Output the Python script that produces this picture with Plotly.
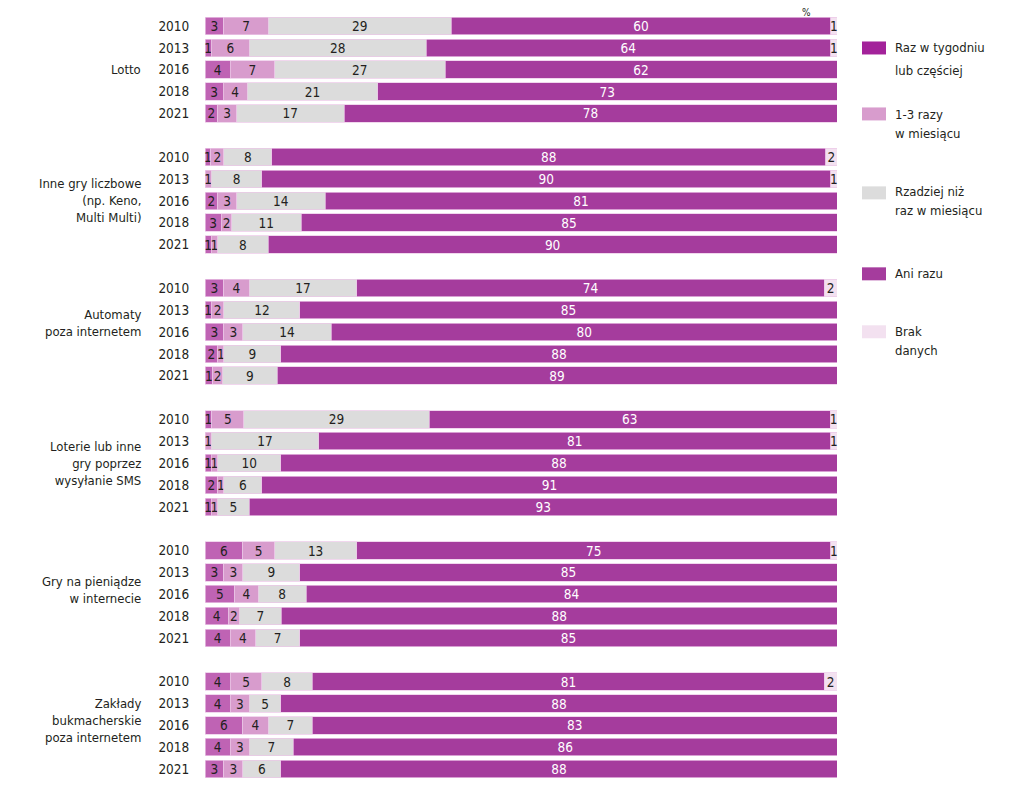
import plotly.graph_objects as go

groups = ["Lotto", "Inne gry liczbowe<br>(np. Keno,<br>Multi Multi)", "Automaty<br>poza internetem",
          "Loterie lub inne<br>gry poprzez<br>wysyłanie SMS", "Gry na pieniądze<br>w internecie",
          "Zakłady<br>bukmacherskie<br>poza internetem"]
years = ["2010", "2013", "2016", "2018", "2021"]

series_names = ["Raz w tygodniu lub częściej", "1-3 razy w miesiącu",
                "Rzadziej niż raz w miesiącu", "Ani razu", "Brak danych"]

# values in % (labels are the rounded values)
weekly = [3, 1, 4, 2.9, 2,
          0.9, 0, 2, 2.6, 1,
          3, 1, 3, 2, 1.2,
          1.1, 0, 1, 2, 1,
          6, 3, 4.7, 3.7, 4,
          4, 4, 6, 4, 3]
monthly = [7, 6, 7, 3.8, 3,
           2.1, 1, 3, 1.6, 1,
           4, 2, 3, 1, 1.6,
           5.0, 1, 1, 1, 1,
           5, 3, 3.7, 1.7, 4,
           5, 3, 4, 3, 3]
rarely = [29, 28, 27, 20.6, 17,
          7.6, 8, 14, 11.0, 8,
          17, 12, 14, 9, 8.6,
          29.4, 17, 10, 6, 5,
          13, 9, 7.6, 6.7, 7,
          8, 5, 7, 7, 6]
never = [60, 64, 62, 72.7, 78,
         87.6, 90, 81, 84.8, 90,
         74, 85, 80, 88, 88.6,
         63.4, 81, 88, 91, 93,
         75, 85, 84.0, 87.9, 85,
         81, 88, 83, 86, 88]
nodata = [1, 1, 0, 0, 0,
          1.8, 1, 0, 0, 0,
          2, 0, 0, 0, 0,
          1.1, 1, 0, 0, 0,
          1, 0, 0, 0, 0,
          2, 0, 0, 0, 0]

bar_colors = ["#bf63b4", "#d89ccd", "#dcdcdc", "#a53c9d", "#f3e1f0"]
legend_colors = ["#a3229a", "#d89ccd", "#dcdcdc", "#a53c9d", "#f3e1f0"]
text_colors = ["#231f20", "#231f20", "#231f20", "#ffffff", "#231f20"]

FONT = "Liberation Sans Narrow, DejaVu Sans Condensed, Arial Narrow, sans-serif"

# y positions: 6 slots per group, last slot empty
ypos = []
for g in range(len(groups)):
    for k in range(len(years)):
        ypos.append(g * 6 + k)
ytext = years * len(groups)

fig = go.Figure()
for i, (vals, name, col, tcol) in enumerate(zip([weekly, monthly, rarely, never, nodata], series_names,
                                                bar_colors, text_colors)):
    labels = [str(int(v + 0.5)) if v > 0 else "" for v in vals]
    fig.add_trace(go.Bar(
        x=vals, y=ypos, orientation="h", name=name,
        marker=dict(color=col, line=dict(color="rgba(236,200,232,0.9)", width=0.8)),
        text=labels,
        textposition="inside", insidetextanchor="middle", textangle=0,
        constraintext="none", cliponaxis=False,
        textfont=dict(family=FONT, size=13.5, color=tcol),
        showlegend=False, hoverinfo="skip",
    ))

# page offset (body margin of the html page)
O = 8
W, H = 1016, 787
L, R, T, B = 205 - O, 1016 - (837 - O), 15 - O, 787 - (780.5 - O)
PW, PH = W - L - R, H - T - B


def px_x(p):
    return (p - O - L) / PW


def px_y(p):
    return 1 - (p - O - T) / PH


annotations = []
# group labels
group_offsets = [0, 0, -0.4, 0, -0.2, -0.2]
for g, lab in enumerate(groups):
    annotations.append(dict(
        x=px_x(143), xref="paper", y=g * 6 + 2 + group_offsets[g], yref="y",
        text=lab, showarrow=False, xanchor="right", yanchor="middle", align="right",
        font=dict(family=FONT, size=13, color="#231f20")))

# "%" label at top
annotations.append(dict(x=px_x(806), xref="paper", y=px_y(12), yref="paper", text="%",
                        showarrow=False, xanchor="center", yanchor="middle",
                        font=dict(family=FONT, size=10, color="#231f20")))

# custom legend
legend_items = [
    (48, ["Raz w tygodniu", "lub częściej"], [48, 71]),
    (114, ["1-3 razy", "w miesiącu"], [115, 134]),
    (193, ["Rzadziej niż", "raz w miesiącu"], [192, 211]),
    (274, ["Ani razu"], [274]),
    (332, ["Brak", "danych"], [332, 351]),
]
shapes = []
for (sy, lines, lys), col in zip(legend_items, legend_colors):
    shapes.append(dict(type="rect", xref="paper", yref="paper",
                       x0=px_x(862), x1=px_x(886), y0=px_y(sy + 6.5), y1=px_y(sy - 6.5),
                       fillcolor=col, line=dict(width=0)))
    for t, ly in zip(lines, lys):
        annotations.append(dict(x=px_x(893), xref="paper", y=px_y(ly), yref="paper", text=t,
                                showarrow=False, xanchor="left", yanchor="middle",
                                font=dict(family=FONT, size=13, color="#231f20")))

fig.update_layout(
    width=W, height=H,
    margin=dict(l=L, r=R, t=T, b=B, pad=0),
    barmode="stack", bargap=0.2,
    plot_bgcolor="white", paper_bgcolor="white",
    xaxis=dict(range=[0, 100], showgrid=False, zeroline=False, showticklabels=False,
               showline=False, fixedrange=True),
    yaxis=dict(range=[34.5, -0.5], tickmode="array", tickvals=ypos, ticktext=ytext,
               showgrid=False, zeroline=False, showline=False, ticks="outside",
               ticklen=12, tickcolor="rgba(0,0,0,0)",
               tickfont=dict(family=FONT, size=13.5, color="#231f20"), fixedrange=True),
    annotations=annotations, shapes=shapes,
    font=dict(family=FONT),
)

fig.write_html("out.html")
